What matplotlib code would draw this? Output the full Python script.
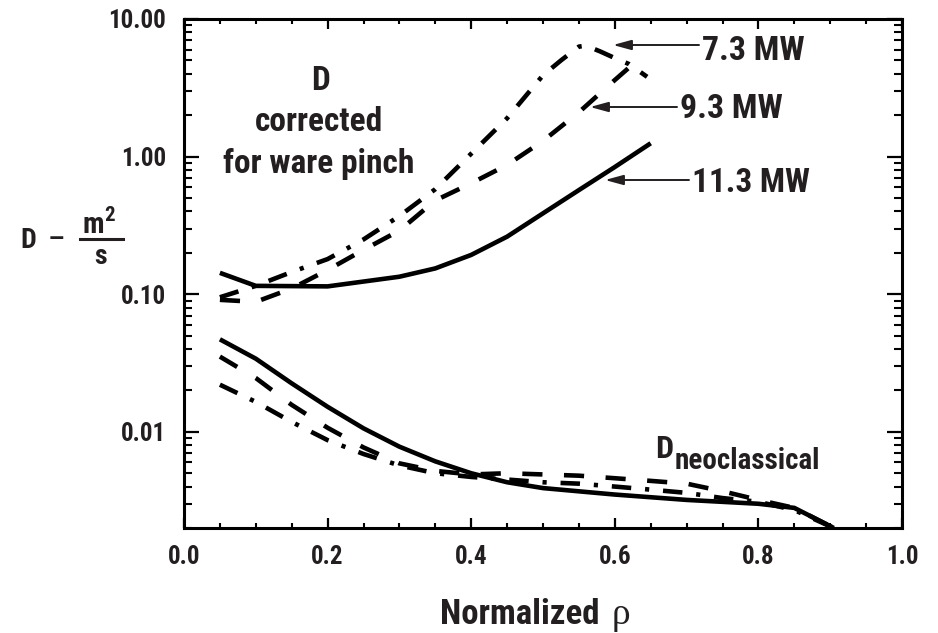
import matplotlib
matplotlib.use("Agg")
import matplotlib.pyplot as plt
from matplotlib.ticker import FixedLocator, LogLocator, NullFormatter, FixedFormatter
from matplotlib.lines import Line2D
import numpy as np

FAM = ['Roboto Condensed', 'Liberation Sans Narrow', 'DejaVu Sans Condensed', 'Liberation Sans', 'DejaVu Sans']
plt.rcParams['font.family'] = FAM
plt.rcParams['font.weight'] = 'bold'
plt.rcParams['font.stretch'] = 'condensed'
plt.rcParams['lines.scale_dashes'] = False

TXT = '#231f20'

# Upper curves: D corrected for Ware pinch
x_113_up = [0.05, 0.10, 0.20, 0.30, 0.35, 0.40, 0.45, 0.50, 0.55, 0.60, 0.65]
y_113_up = [0.143, 0.115, 0.114, 0.134, 0.154, 0.193, 0.262, 0.387, 0.571, 0.84, 1.25]

x_93_up = [0.05, 0.10, 0.15, 0.20, 0.25, 0.30, 0.35, 0.40, 0.45, 0.50, 0.55, 0.60, 0.635]
y_93_up = [0.091, 0.088, 0.11, 0.15, 0.21, 0.29, 0.48, 0.64, 0.87, 1.3, 2.1, 3.6, 5.2]

x_73_up = [0.05, 0.10, 0.15, 0.20, 0.25, 0.30, 0.35, 0.40, 0.45, 0.50, 0.525, 0.55, 0.56, 0.58, 0.60, 0.62, 0.645]
y_73_up = [0.095, 0.115, 0.145, 0.18, 0.25, 0.37, 0.58, 1.05, 1.9, 3.9, 5.0, 6.3, 6.4, 5.8, 5.2, 4.7, 3.8]

# Lower curves: D neoclassical
x_113_lo = [0.05, 0.10, 0.15, 0.20, 0.25, 0.30, 0.35, 0.40, 0.45, 0.50, 0.60, 0.70, 0.80, 0.85, 0.905]
y_113_lo = [0.047, 0.034, 0.0225, 0.0152, 0.0106, 0.0078, 0.0061, 0.0050, 0.0043, 0.0039, 0.0035, 0.0032, 0.0030, 0.0028, 0.0020]

x_93_lo = [0.05, 0.10, 0.15, 0.20, 0.25, 0.30, 0.35, 0.40, 0.45, 0.50, 0.55, 0.60, 0.65, 0.70, 0.75, 0.80, 0.85, 0.905]
y_93_lo = [0.0352, 0.0246, 0.0157, 0.0107, 0.0077, 0.0059, 0.0052, 0.0049, 0.0050, 0.0049, 0.0048, 0.0046, 0.0044, 0.0042, 0.0037, 0.0032, 0.0028, 0.0020]

x_73_lo = [0.05, 0.10, 0.15, 0.20, 0.25, 0.30, 0.35, 0.40, 0.45, 0.50, 0.55, 0.60, 0.65, 0.70, 0.75, 0.80, 0.85, 0.905]
y_73_lo = [0.022, 0.0165, 0.0118, 0.0087, 0.0069, 0.0057, 0.0050, 0.0047, 0.0045, 0.0043, 0.0042, 0.0040, 0.0038, 0.0036, 0.0033, 0.0031, 0.0027, 0.0020]

xticks = [0.0, 0.2, 0.4, 0.6, 0.8, 1.0]
xtick_labels = ['0.0', '0.2', '0.4', '0.6', '0.8', '1.0']
yticks = [0.01, 0.1, 1.0, 10.0]
ytick_labels = ['0.01', '0.10', '1.00', '10.00']

W, H = 938, 633
fig = plt.figure(figsize=(W / 100, H / 100), dpi=100)
ax = fig.add_axes([184 / W, 1 - 528 / H, 718 / W, 509 / H])
renderer = fig.canvas.get_renderer()

lw = 3.3
dash = (0, (14.5, 15.5))
dashdot = (0, (14.0, 10.0, 3.0, 10.0))
ax.plot(x_113_up, y_113_up, color='black', lw=lw, solid_capstyle='butt')
ax.plot(x_93_up, y_93_up, color='black', lw=lw, linestyle=dash, dash_capstyle='butt')
ax.plot(x_73_up, y_73_up, color='black', lw=lw, linestyle=dashdot, dash_capstyle='butt')
ax.plot(x_113_lo, y_113_lo, color='black', lw=lw, solid_capstyle='butt')
ax.plot(x_93_lo, y_93_lo, color='black', lw=lw, linestyle=dash, dash_capstyle='butt')
ax.plot(x_73_lo, y_73_lo, color='black', lw=lw, linestyle=dashdot, dash_capstyle='butt')

ax.set_yscale('log')
ax.set_xlim(0.0, 1.0)
ax.set_ylim(0.002, 10.0)

ax.xaxis.set_major_locator(FixedLocator(xticks))
ax.xaxis.set_major_formatter(FixedFormatter(xtick_labels))
ax.xaxis.set_minor_locator(FixedLocator(np.arange(0.05, 1.0, 0.05)))
ax.yaxis.set_major_locator(FixedLocator(yticks))
ax.yaxis.set_major_formatter(FixedFormatter(ytick_labels))
ax.yaxis.set_minor_locator(LogLocator(base=10, subs=np.arange(2, 10), numticks=20))
ax.yaxis.set_minor_formatter(NullFormatter())


def fit_size(s, width_px, nominal, **kw):
    t = fig.text(0, 0, s, fontsize=nominal, fontweight='bold', **kw)
    w = t.get_window_extent(renderer).width
    t.remove()
    return min(nominal * 1.0, nominal * width_px / w) if w > 0 else nominal


tick_fs = fit_size('10.00', 58, 19)

for s in ax.spines.values():
    s.set_linewidth(2.2)
    s.set_color('black')
ax.tick_params(which='both', direction='in', top=True, right=True, color='black')
ax.tick_params(axis='x', which='major', length=7.5, width=1.6, labelsize=tick_fs, labelcolor=TXT, pad=12)
ax.tick_params(axis='x', which='minor', length=3.8, width=1.5)
ax.tick_params(axis='y', which='major', length=10.5, width=1.6, labelsize=tick_fs, labelcolor=TXT, pad=13)
ax.tick_params(axis='y', which='minor', length=5.5, width=1.5)
for lab in ax.get_xticklabels() + ax.get_yticklabels():
    lab.set_fontweight('bold')


def ftext(x, y, s, width=None, size=20, **kw):
    kw.setdefault('color', TXT)
    kw.setdefault('fontweight', 'bold')
    if width is not None:
        fam = kw.get('family')
        extra = {'family': fam} if fam else {}
        size = fit_size(s, width, size, **extra)
    return fig.text(x / W, 1 - y / H, s, fontsize=size, **kw)


# annotations
ftext(320, 90, 'D', ha='center', va='baseline', size=24)
ftext(319, 131, 'corrected', width=142, ha='center', va='baseline', size=24)
ftext(319, 173, 'for ware pinch', width=212, ha='center', va='baseline', size=24)

arrow_kw = dict(arrowstyle='-|>,head_length=1.1,head_width=0.3', color=TXT, lw=1.4, shrinkA=0, shrinkB=0)
for label, tx, tb, ly, axx, wd in [('7.3 MW', 702, 60, 45, 613, 103),
                                    ('9.3 MW', 680, 118, 107, 590, 103),
                                    ('11.3 MW', 692, 192, 180, 605, 118)]:
    ax.annotate('', xy=(axx / W, 1 - ly / H), xycoords='figure fraction',
                xytext=((tx - 3) / W, 1 - ly / H), textcoords='figure fraction',
                arrowprops=arrow_kw)
    ftext(tx, tb, label, width=wd, ha='left', va='baseline', size=25)

tD = ftext(655, 458, 'D', ha='left', va='baseline', size=23)
dx = tD.get_window_extent(renderer).x1
ftext(dx + 1, 469, 'neoclassical', width=146, ha='left', va='baseline', size=21)

# y label
ftext(20, 248, 'D', ha='left', va='baseline', size=20)
ftext(56, 240, '—', width=15, ha='center', va='center', size=20)
tm = ftext(82, 233, 'm', width=28, ha='left', va='baseline', size=21)
mx = tm.get_window_extent(renderer).x1
ftext(mx + 1, 221, '2', ha='left', va='baseline', size=15)
ftext(101, 264, 's', ha='center', va='baseline', size=20)
fig.add_artist(Line2D([80 / W, 123 / W], [1 - 239 / H, 1 - 239 / H], color=TXT, lw=2.2, transform=fig.transFigure))

# x label
ftext(440, 624, 'Normalized', width=165, ha='left', va='baseline', size=25)
ftext(612, 624, 'ρ', ha='left', va='baseline', size=27, family=['Liberation Serif', 'DejaVu Serif'], fontweight='normal', fontstretch='normal')

fig.savefig('out.png', dpi=100)
